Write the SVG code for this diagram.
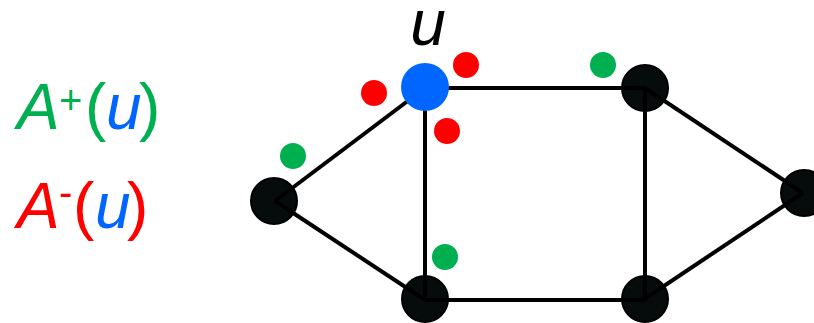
<svg xmlns="http://www.w3.org/2000/svg" width="814" height="323" viewBox="0 0 814 323">
<style>
.edge{stroke:#000;stroke-width:4;fill:none}
.node{fill:#060c0c;stroke:#000;stroke-width:2}
.t{font-family:"Liberation Sans",Arial,sans-serif;font-size:64px}
.it{font-style:italic}
.g{fill:#00b050}.r{fill:#ff0000}.b{fill:#0066ff}
</style>
<rect width="814" height="323" fill="#fff"/>
<g id="n-left"><circle class="node" cx="274" cy="201" r="23"/></g>
<g id="n-bl"><circle class="node" cx="425" cy="299" r="23"/></g>
<g id="n-br"><circle class="node" cx="645" cy="299" r="23"/></g>
<g id="n-tr"><circle class="node" cx="645" cy="88" r="23"/></g>
<g id="n-right"><circle class="node" cx="804" cy="193" r="23"/></g>
<g id="edges">
<line class="edge" x1="275" y1="201" x2="425" y2="88"/>
<line class="edge" x1="425" y1="88" x2="647" y2="88"/>
<line class="edge" x1="425" y1="88" x2="425" y2="300"/>
<line class="edge" x1="275" y1="201" x2="425" y2="300"/>
<line class="edge" x1="425" y1="300" x2="645" y2="300"/>
<line class="edge" x1="645" y1="88" x2="645" y2="301"/>
<line class="edge" x1="645" y1="88" x2="803" y2="193"/>
<line class="edge" x1="643" y1="300" x2="803" y2="193"/>
</g>
<g id="n-u"><circle cx="425" cy="87" r="24" fill="#0066ff"/>
<text class="t it" x="428" y="45" text-anchor="middle" fill="#000">u</text></g>
<g id="marks">
<circle cx="466" cy="65" r="13" fill="#ff0000"/>
<circle cx="374" cy="93" r="13" fill="#ff0000"/>
<circle cx="447" cy="131" r="13" fill="#ff0000"/>
<circle cx="293" cy="156" r="13" fill="#00b050"/>
<circle cx="445" cy="257" r="13" fill="#00b050"/>
<circle cx="603" cy="65" r="13" fill="#00b050"/>
</g>
<g id="legend">
<text class="t"><tspan class="it g" x="17" y="129">A</tspan><tspan class="g" x="59" y="114" font-size="40">+</tspan><tspan class="g" x="85" y="129">(</tspan><tspan class="it b" x="106" y="129">u</tspan><tspan class="g" x="139" y="129">)</tspan></text>
<text class="t"><tspan class="it r" x="17" y="228">A</tspan><tspan class="r" x="59" y="206" font-size="40">-</tspan><tspan class="r" x="73" y="228">(</tspan><tspan class="it b" x="95" y="228">u</tspan><tspan class="r" x="127" y="228">)</tspan></text>
</g>
</svg>
